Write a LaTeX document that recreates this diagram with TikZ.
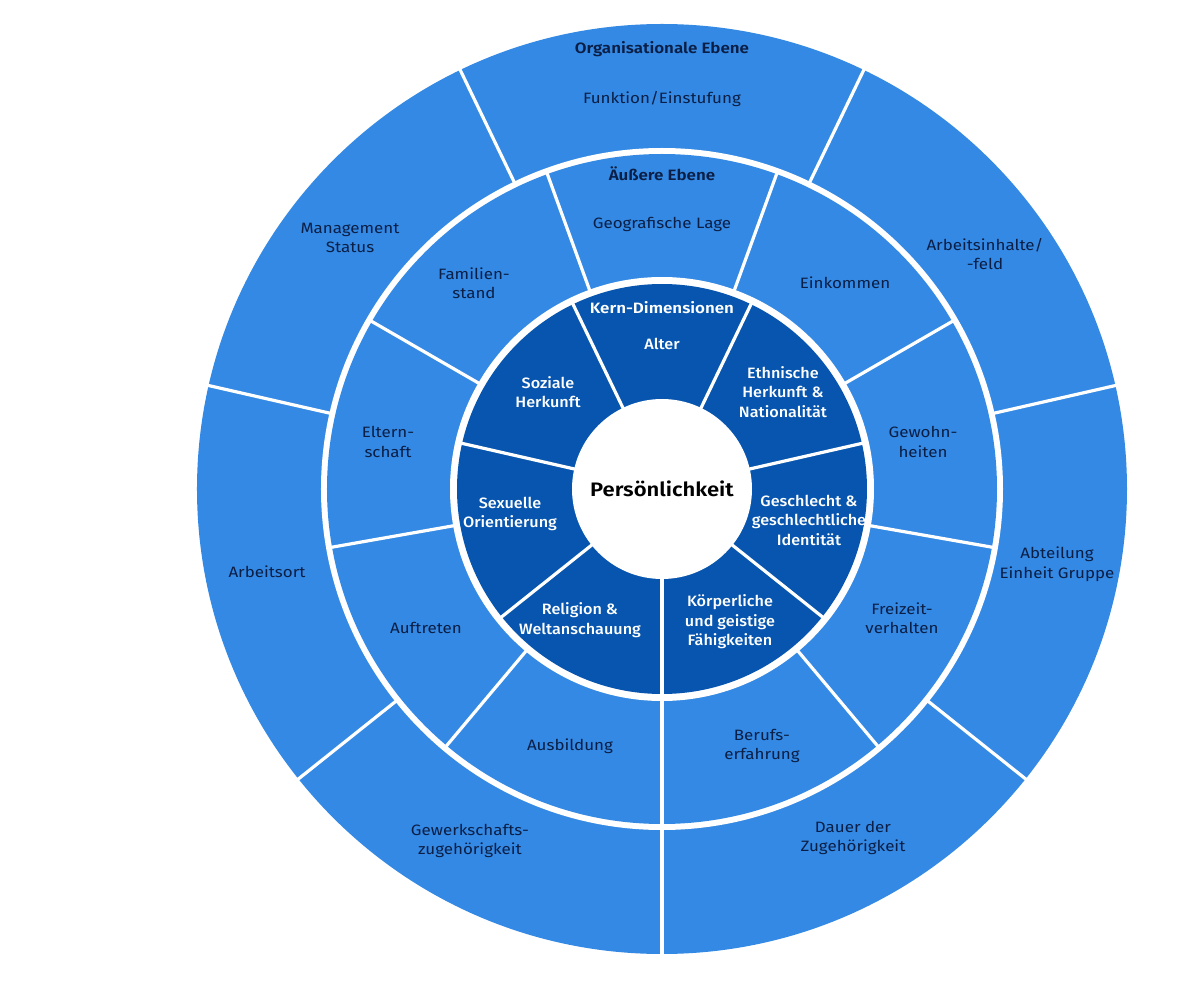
\documentclass[tikz,border=0pt]{standalone}
\usepackage{fontspec}
\setmainfont{Fira Sans}[BoldFont={Fira Sans SemiBold},FakeStretch=1.13]
\newfontfamily\medfont{Fira Sans Medium}[FakeStretch=1.08]
\definecolor{lightblue}{HTML}{3389E3}
\definecolor{darkblue}{HTML}{0755AE}
\definecolor{navytext}{HTML}{0B1E45}
\tikzset{
  sep/.style={white, line width=3.2pt},
  outertext/.style={align=center, text=navytext, font=\fontsize{15}{19.5}\selectfont, inner sep=0pt},
  headtext/.style={align=center, text=navytext, font=\fontsize{15}{19.5}\selectfont\bfseries, inner sep=0pt},
  innertext/.style={align=center, text=white, font=\fontsize{15}{19.5}\selectfont\medfont, inner sep=0pt},
  innerhead/.style={align=center, text=white, font=\fontsize{15}{19.5}\selectfont\bfseries, inner sep=0pt},
}
\begin{document}
\begin{tikzpicture}[x=1pt,y=1pt]
\useasboundingbox (-662,-499) rectangle (524,489);
% rings
\fill[lightblue] (0,0) circle (465);
\fill[white] (0,0) circle (341);
\fill[lightblue] (0,0) circle (335);
\fill[white] (0,0) circle (212);
\fill[darkblue] (0,0) circle (205);
\fill[white] (0,0) circle (90);
% separators
\foreach \k in {0,...,6} \draw[sep] ({-90+\k*360/7}:340) -- ({-90+\k*360/7}:467);
\foreach \k in {0,...,8} \draw[sep] ({-90+\k*40}:211) -- ({-90+\k*40}:336);
\foreach \k in {0,...,6} \draw[sep] ({-90+\k*360/7}:89) -- ({-90+\k*360/7}:206);
% outer ring texts
\node[headtext] (orghead) at (0,440) {Organisationale Ebene};
\node[outertext] (funktion) at (0,390) {Funktion/Einstufung};
\node[outertext] (management) at (-312,251) {Management\\Status};
\node[outertext] (arbeitsinhalte) at (323,235) {Arbeitsinhalte/\\-feld};
\node[outertext] (arbeitsort) at (-395,-83) {Arbeitsort};
\node[outertext] (abteilung) at (395,-75) {Abteilung\\Einheit Gruppe};
\node[outertext] (gewerkschaft) at (-192,-352) {Gewerkschafts-\\zugehörigkeit};
\node[outertext] (dauer) at (191,-349) {Dauer der\\Zugehörigkeit};
% middle ring texts
\node[headtext] (aeussere) at (0,315) {Äußere Ebene};
\node[outertext] (geografisch) at (0,265) {Geografische Lage};
\node[outertext] (familien) at (-188,206) {Familien-\\stand};
\node[outertext] (einkommen) at (183,206) {Einkommen};
\node[outertext] (eltern) at (-274,47) {Eltern-\\schaft};
\node[outertext] (gewohn) at (261,47) {Gewohn-\\heiten};
\node[outertext] (auftreten) at (-236,-139) {Auftreten};
\node[outertext] (freizeit) at (240,-129) {Freizeit-\\verhalten};
\node[outertext] (ausbildung) at (-92,-257) {Ausbildung};
\node[outertext] (berufs) at (100,-257) {Berufs-\\erfahrung};
% inner ring texts
\node[innerhead] (kern) at (0,181) {Kern-Dimensionen};
\node[innertext] (alter) at (0,145) {Alter};
\node[innertext] (sozial) at (-114,97) {Soziale\\Herkunft};
\node[innertext] (ethnisch) at (121,97) {Ethnische\\Herkunft \&\\Nationalität};
\node[innertext] (sexuell) at (-152,-25) {Sexuelle\\Orientierung};
\node[innertext] (geschlecht) at (147,-31) {Geschlecht \&\\geschlechtliche\\Identität};
\node[innertext] (religion) at (-82,-131) {Religion \&\\Weltanschauung};
\node[innertext] (koerper) at (68,-133) {Körperliche\\und geistige\\Fähigkeiten};
% center
\node[align=center, text=black, font=\fontsize{19.5}{23}\selectfont\bfseries, inner sep=0pt] (person) at (0,0) {Persönlichkeit};
\end{tikzpicture}
\end{document}
